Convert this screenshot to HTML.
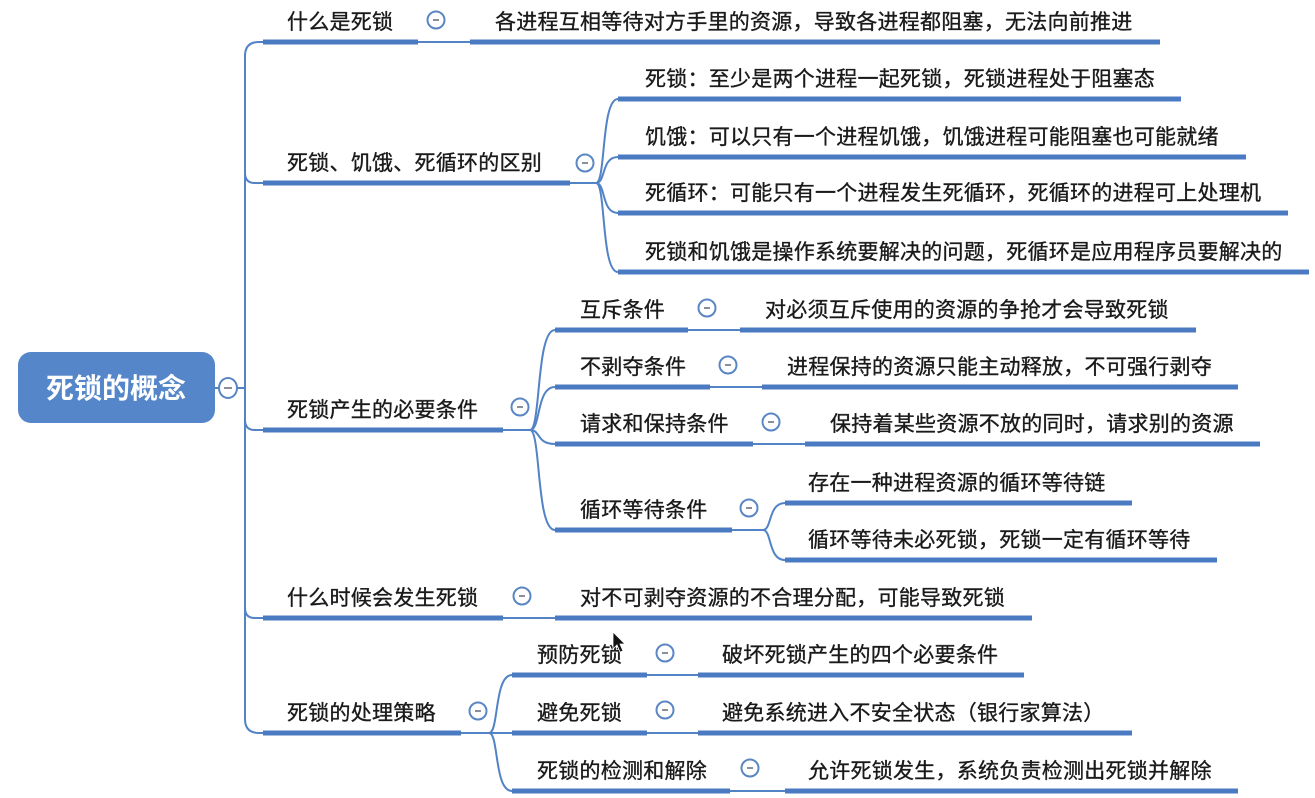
<!DOCTYPE html>
<html>
<head>
<meta charset="utf-8">
<style>
  html,body{margin:0;padding:0;background:#ffffff;}
  svg{display:block;}
  .t{font-family:"Liberation Sans","Noto Sans CJK SC",sans-serif;font-size:21px;fill:#1a1a1a;stroke:#1a1a1a;stroke-width:0.35;letter-spacing:0.25px;}
  .root{font-family:"Liberation Sans","Noto Sans CJK SC",sans-serif;font-size:28px;font-weight:bold;fill:#ffffff;}
  .bar{stroke:#4a7bc2;stroke-width:5;stroke-linecap:butt;fill:none;}
  .ln{stroke:#5283c6;stroke-width:2;fill:none;}
  .c{fill:#ffffff;stroke:#5a86c4;stroke-width:2;}
  .m{stroke:#8a8f99;stroke-width:2;}
</style>
</head>
<body>
<svg width="1315" height="798" viewBox="0 0 1315 798" xmlns="http://www.w3.org/2000/svg">
  <rect x="0" y="0" width="1315" height="798" fill="#ffffff"/>

  <!-- Root -->
  <rect x="18" y="352" width="197" height="71" rx="13" ry="13" fill="#5586c9"/>
  <text class="root" x="116" y="398" text-anchor="middle">死锁的概念</text>
  <line class="ln" x1="215" y1="388" x2="220" y2="388"/>
  <line class="ln" x1="237" y1="388" x2="245" y2="388"/>

  <!-- Trunk -->
  <path class="ln" d="M245,56 Q245,42 259,42 L263,42"/>
  <line class="ln" x1="245" y1="56" x2="245" y2="719"/>
  <path class="ln" d="M245,719 Q245,733 259,733 L263,733"/>
  <path class="ln" d="M245,173 Q245,183 255,183 L263,183"/>
  <path class="ln" d="M245,420 Q245,430 255,430 L263,430"/>
  <path class="ln" d="M245,608 Q245,618 255,618 L263,618"/>

  <!-- Branch 1 -->
  <line class="bar" x1="263" y1="42" x2="418" y2="42"/>
  <text class="t" x="287" y="29">什么是死锁</text>
  <line class="ln" x1="418" y1="42" x2="470" y2="42"/>
  <line class="bar" x1="470" y1="42" x2="1160" y2="42"/>
  <text class="t" x="495" y="29">各进程互相等待对方手里的资源，导致各进程都阻塞，无法向前推进</text>

  <!-- Branch 2 -->
  <line class="bar" x1="263" y1="183" x2="570" y2="183"/>
  <text class="t" x="287" y="170">死锁、饥饿、死循环的区别</text>
  <line class="ln" x1="570" y1="183" x2="596" y2="183"/>
  <path class="ln" d="M596,183 C606,183 601,99 618,99"/>
  <path class="ln" d="M596,183 C606,183 601,157 618,157"/>
  <path class="ln" d="M596,183 C606,183 601,213 618,213"/>
  <path class="ln" d="M596,183 C606,183 601,272 618,272"/>
  <line class="bar" x1="618" y1="99" x2="1181" y2="99"/>
  <line class="bar" x1="618" y1="157" x2="1246" y2="157"/>
  <line class="bar" x1="618" y1="213" x2="1288" y2="213"/>
  <line class="bar" x1="618" y1="272" x2="1309" y2="272"/>
  <text class="t" x="645" y="86">死锁：至少是两个进程一起死锁，死锁进程处于阻塞态</text>
  <text class="t" x="645" y="144">饥饿：可以只有一个进程饥饿，饥饿进程可能阻塞也可能就绪</text>
  <text class="t" x="645" y="200">死循环：可能只有一个进程发生死循环，死循环的进程可上处理机</text>
  <text class="t" x="645" y="259">死锁和饥饿是操作系统要解决的问题，死循环是应用程序员要解决的</text>

  <!-- Branch 3 -->
  <line class="bar" x1="263" y1="430" x2="503" y2="430"/>
  <text class="t" x="287" y="417">死锁产生的必要条件</text>
  <line class="ln" x1="503" y1="430" x2="530" y2="430"/>
  <path class="ln" d="M530,430 C541,430 536,330 555,330"/>
  <path class="ln" d="M530,430 C541,430 536,387 555,387"/>
  <path class="ln" d="M530,430 C541,430 536,444 555,444"/>
  <path class="ln" d="M530,430 C541,430 536,530 555,530"/>

  <line class="bar" x1="555" y1="330" x2="688" y2="330"/>
  <text class="t" x="580" y="317">互斥条件</text>
  <line class="ln" x1="688" y1="330" x2="740" y2="330"/>
  <line class="bar" x1="740" y1="330" x2="1196" y2="330"/>
  <text class="t" x="765" y="317">对必须互斥使用的资源的争抢才会导致死锁</text>

  <line class="bar" x1="555" y1="387" x2="710" y2="387"/>
  <text class="t" x="580" y="374">不剥夺条件</text>
  <line class="ln" x1="710" y1="387" x2="762" y2="387"/>
  <line class="bar" x1="762" y1="387" x2="1238" y2="387"/>
  <text class="t" x="787" y="374">进程保持的资源只能主动释放，不可强行剥夺</text>

  <line class="bar" x1="555" y1="444" x2="753" y2="444"/>
  <text class="t" x="580" y="431">请求和保持条件</text>
  <line class="ln" x1="753" y1="444" x2="805" y2="444"/>
  <line class="bar" x1="805" y1="444" x2="1260" y2="444"/>
  <text class="t" x="830" y="431">保持着某些资源不放的同时，请求别的资源</text>

  <line class="bar" x1="555" y1="530" x2="732" y2="530"/>
  <text class="t" x="580" y="517">循环等待条件</text>
  <line class="ln" x1="732" y1="530" x2="763" y2="530"/>
  <path class="ln" d="M763,530 C772,530 768,503 785,503"/>
  <path class="ln" d="M763,530 C772,530 768,560 785,560"/>
  <line class="bar" x1="785" y1="503" x2="1132" y2="503"/>
  <line class="bar" x1="785" y1="560" x2="1217" y2="560"/>
  <text class="t" x="808" y="490">存在一种进程资源的循环等待链</text>
  <text class="t" x="808" y="547">循环等待未必死锁，死锁一定有循环等待</text>

  <!-- Branch 4 -->
  <line class="bar" x1="263" y1="618" x2="503" y2="618"/>
  <text class="t" x="287" y="605">什么时候会发生死锁</text>
  <line class="ln" x1="503" y1="618" x2="555" y2="618"/>
  <line class="bar" x1="555" y1="618" x2="1032" y2="618"/>
  <text class="t" x="580" y="605">对不可剥夺资源的不合理分配，可能导致死锁</text>

  <!-- Branch 5 -->
  <line class="bar" x1="263" y1="733" x2="461" y2="733"/>
  <text class="t" x="287" y="720">死锁的处理策略</text>
  <line class="ln" x1="461" y1="733" x2="512" y2="733"/>
  <path class="ln" d="M489,733 C499,733 494,675 512,675"/>
  <path class="ln" d="M489,733 C499,733 494,791 512,791"/>

  <line class="bar" x1="512" y1="675" x2="647" y2="675"/>
  <text class="t" x="537" y="662">预防死锁</text>
  <line class="ln" x1="647" y1="675" x2="698" y2="675"/>
  <line class="bar" x1="698" y1="675" x2="1024" y2="675"/>
  <text class="t" x="722" y="662">破坏死锁产生的四个必要条件</text>

  <line class="bar" x1="512" y1="733" x2="647" y2="733"/>
  <text class="t" x="537" y="720">避免死锁</text>
  <line class="ln" x1="647" y1="733" x2="698" y2="733"/>
  <line class="bar" x1="698" y1="733" x2="1132" y2="733"/>
  <text class="t" x="722" y="720">避免系统进入不安全状态（银行家算法）</text>

  <line class="bar" x1="512" y1="791" x2="730" y2="791"/>
  <text class="t" x="537" y="778">死锁的检测和解除</text>
  <line class="ln" x1="730" y1="791" x2="785" y2="791"/>
  <line class="bar" x1="785" y1="791" x2="1238" y2="791"/>
  <text class="t" x="808" y="778">允许死锁发生，系统负责检测出死锁并解除</text>

  <!-- Collapse circles -->
  <g>
    <ellipse class="c" cx="228" cy="388" rx="9" ry="10"/><line class="m" x1="224" y1="388" x2="232" y2="388"/>
    <circle class="c" cx="436" cy="20" r="8.5"/><line class="m" x1="433" y1="20" x2="439" y2="20"/>
    <circle class="c" cx="585" cy="163" r="8.5"/><line class="m" x1="582" y1="163" x2="588" y2="163"/>
    <circle class="c" cx="520" cy="407" r="8.5"/><line class="m" x1="517" y1="407" x2="523" y2="407"/>
    <circle class="c" cx="522" cy="596" r="8.5"/><line class="m" x1="519" y1="596" x2="525" y2="596"/>
    <circle class="c" cx="478" cy="711" r="8.5"/><line class="m" x1="475" y1="711" x2="481" y2="711"/>
    <circle class="c" cx="707" cy="308" r="8.5"/><line class="m" x1="704" y1="308" x2="710" y2="308"/>
    <circle class="c" cx="728" cy="365" r="8.5"/><line class="m" x1="725" y1="365" x2="731" y2="365"/>
    <circle class="c" cx="771" cy="422" r="8.5"/><line class="m" x1="768" y1="422" x2="774" y2="422"/>
    <circle class="c" cx="749" cy="508" r="8.5"/><line class="m" x1="746" y1="508" x2="752" y2="508"/>
    <circle class="c" cx="665" cy="653" r="8.5"/><line class="m" x1="662" y1="653" x2="668" y2="653"/>
    <circle class="c" cx="665" cy="710" r="8.5"/><line class="m" x1="662" y1="710" x2="668" y2="710"/>
    <circle class="c" cx="750" cy="768" r="8.5"/><line class="m" x1="747" y1="768" x2="753" y2="768"/>
  </g>

  <!-- Mouse cursor -->
  <path d="M613,632 L613,649 L617,645 L620,652 L623,651 L620,644 L625,644 Z" fill="#111" stroke="#ffffff" stroke-width="0.8"/>
</svg>
</body>
</html>
